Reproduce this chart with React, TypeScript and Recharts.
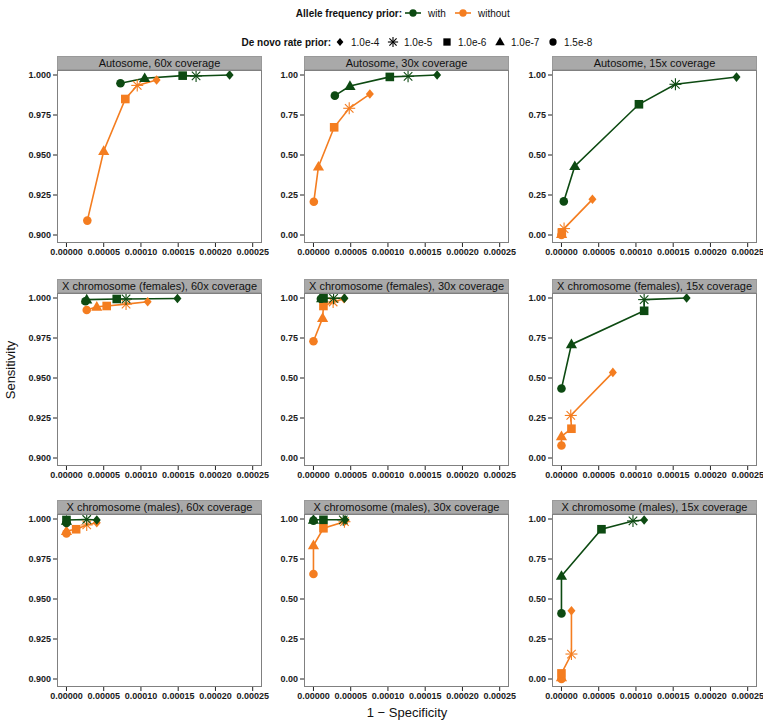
import React from "react";
import { ComposedChart, Line, XAxis, YAxis } from "recharts";

const FONT = "'Liberation Sans', Arial, Helvetica, sans-serif";
const GREEN = "#0d4a12";
const ORANGE = "#f47d20";

// order along each path: 1.5e-8, 1.0e-7, 1.0e-6, 1.0e-5, 1.0e-4
const rateShapes = ["circle", "triangle", "square", "asterisk", "diamond"];
const legendRates = ["1.0e-4", "1.0e-5", "1.0e-6", "1.0e-7", "1.5e-8"];
const legendShapes = ["diamond", "asterisk", "square", "triangle", "circle"];
const priorLabels = ["with", "without"];

const xTicks = [0, 0.00005, 0.0001, 0.00015, 0.0002, 0.00025];
const yTicksFine = [0.9, 0.925, 0.95, 0.975, 1.0];
const yTicksFull = [0, 0.25, 0.5, 0.75, 1.0];

const panelTitles = [
  "Autosome, 60x coverage",
  "Autosome, 30x coverage",
  "Autosome, 15x coverage",
  "X chromosome (females), 60x coverage",
  "X chromosome (females), 30x coverage",
  "X chromosome (females), 15x coverage",
  "X chromosome (males), 60x coverage",
  "X chromosome (males), 30x coverage",
  "X chromosome (males), 15x coverage",
];

// Autosome 60x
const auto60WithFpr = [0.0000725, 0.000105, 0.000156, 0.000174, 0.000219];
const auto60WithSens = [0.9948, 0.998, 0.9996, 0.9994, 1.0];
const auto60WithoutFpr = [0.000028, 0.00005, 0.000079, 0.000095, 0.000121];
const auto60WithoutSens = [0.909, 0.9525, 0.985, 0.9935, 0.9969];
// Autosome 30x
const auto30WithFpr = [0.0000287, 0.000049, 0.0001025, 0.000127, 0.000166];
const auto30WithSens = [0.871, 0.931, 0.988, 0.992, 1.0];
const auto30WithoutFpr = [0.0000005, 0.0000067, 0.0000278, 0.000048, 0.0000757];
const auto30WithoutSens = [0.208, 0.427, 0.673, 0.792, 0.881];
// Autosome 15x
const auto15WithFpr = [0.0000031, 0.0000179, 0.000104, 0.000153, 0.000235];
const auto15WithSens = [0.21, 0.43, 0.817, 0.942, 0.987];
const auto15WithoutFpr = [0.0, 0.0000002, 0.0000005, 0.0000035, 0.0000416];
const auto15WithoutSens = [0.0, 0.005, 0.015, 0.04, 0.223];
// X females 60x
const xf60WithFpr = [0.0000255, 0.0000272, 0.0000675, 0.00008, 0.000149];
const xf60WithSens = [0.998, 0.999, 0.9994, 0.9994, 0.9997];
const xf60WithoutFpr = [0.0000272, 0.0000407, 0.000054, 0.00008, 0.000109];
const xf60WithoutSens = [0.9925, 0.9945, 0.995, 0.9962, 0.9977];
// X females 30x
const xf30WithFpr = [0.00001, 0.000011, 0.0000135, 0.000027, 0.0000416];
const xf30WithSens = [0.995, 0.998, 0.998, 0.998, 0.999];
const xf30WithoutFpr = [0.0, 0.0000123, 0.0000134, 0.0000264, 0.000041];
const xf30WithoutSens = [0.73, 0.875, 0.95, 0.975, 0.995];
// X females 15x
const xf15WithFpr = [0.0, 0.0000134, 0.000111, 0.000111, 0.000168];
const xf15WithSens = [0.434, 0.71, 0.92, 0.99, 1.0];
const xf15WithoutFpr = [0.0, 0.0, 0.0000134, 0.0000125, 0.000069];
const xf15WithoutSens = [0.078, 0.135, 0.183, 0.266, 0.535];
// X males 60x
const xm60WithFpr = [0.0, 0.0, 0.0, 0.0000272, 0.0000407];
const xm60WithSens = [0.9975, 0.9988, 0.9994, 0.9997, 0.9994];
const xm60WithoutFpr = [0.0, 0.0, 0.000013, 0.0000272, 0.0000407];
const xm60WithoutSens = [0.991, 0.9925, 0.9936, 0.9963, 0.9977];
// X males 30x
const xm30WithFpr = [0.0, 0.0, 0.0000134, 0.00004, 0.0000425];
const xm30WithSens = [0.99, 0.995, 0.995, 0.995, 0.995];
const xm30WithoutFpr = [0.0, 0.0, 0.0000134, 0.0000416, 0.000043];
const xm30WithoutSens = [0.656, 0.835, 0.942, 0.983, 0.99];
// X males 15x
const xm15WithFpr = [0.0, 0.0, 0.0000537, 0.000096, 0.000111];
const xm15WithSens = [0.41, 0.644, 0.936, 0.988, 0.994];
const xm15WithoutFpr = [0.0, 0.0, 0.0, 0.0000134, 0.0000134];
const xm15WithoutSens = [0.0, 0.01, 0.035, 0.156, 0.427];

const panelSeries = [
  [auto60WithFpr, auto60WithSens, auto60WithoutFpr, auto60WithoutSens],
  [auto30WithFpr, auto30WithSens, auto30WithoutFpr, auto30WithoutSens],
  [auto15WithFpr, auto15WithSens, auto15WithoutFpr, auto15WithoutSens],
  [xf60WithFpr, xf60WithSens, xf60WithoutFpr, xf60WithoutSens],
  [xf30WithFpr, xf30WithSens, xf30WithoutFpr, xf30WithoutSens],
  [xf15WithFpr, xf15WithSens, xf15WithoutFpr, xf15WithoutSens],
  [xm60WithFpr, xm60WithSens, xm60WithoutFpr, xm60WithoutSens],
  [xm30WithFpr, xm30WithSens, xm30WithoutFpr, xm30WithoutSens],
  [xm15WithFpr, xm15WithSens, xm15WithoutFpr, xm15WithoutSens],
];

// layout
const COL_LEFT = [57, 304, 552];
const ROW_TOP = [70, 293, 514];
const PW = 205;
const PH = 173;
const STRIP_H = 14;
const YAXIS_W = 52;
const MT = 8;
const XDOMAIN = [-0.0000127, 0.0002625];
const YDOMAIN_FINE = [0.895, 1.003125];
const YDOMAIN_FULL = [-0.05, 1.03125];

function Marker({ cx, cy, shape, color, legend }: any) {
  if (cx == null || cy == null || isNaN(cx) || isNaN(cy)) return null;
  const s = legend ? 0.85 : 1;
  switch (shape) {
    case "circle":
      return <circle cx={cx} cy={cy} r={4.3 * s} fill={color} />;
    case "triangle":
      return (
        <polygon
          points={`${cx},${cy - 5.8 * s} ${cx - 5.6 * s},${cy + 3.9 * s} ${cx + 5.6 * s},${cy + 3.9 * s}`}
          fill={color}
        />
      );
    case "square":
      return <rect x={cx - 4.3 * s} y={cy - 4.3 * s} width={8.6 * s} height={8.6 * s} fill={color} />;
    case "diamond":
      return (
        <polygon
          points={`${cx},${cy - 4.8 * s} ${cx + 4 * s},${cy} ${cx},${cy + 4.8 * s} ${cx - 4 * s},${cy}`}
          fill={color}
        />
      );
    case "asterisk": {
      const r = 6 * s;
      const d = r * 0.7071;
      return (
        <g stroke={color} strokeWidth={1.1} strokeLinecap="butt">
          <line x1={cx - r} y1={cy} x2={cx + r} y2={cy} />
          <line x1={cx} y1={cy - r} x2={cx} y2={cy + r} />
          <line x1={cx - d} y1={cy - d} x2={cx + d} y2={cy + d} />
          <line x1={cx - d} y1={cy + d} x2={cx + d} y2={cy - d} />
        </g>
      );
    }
    default:
      return null;
  }
}

function makeRows(fpr: number[], sens: number[]) {
  return fpr.map((x, i) => ({ x, y: sens[i], shape: rateShapes[i] }));
}

function dotRenderer(color: string) {
  return (p: any) => (
    <Marker key={`m-${p.index}`} cx={p.cx} cy={p.cy} shape={p.payload?.shape} color={color} />
  );
}

function Panel({ idx }: { idx: number }) {
  const col = idx % 3;
  const row = Math.floor(idx / 3);
  const L = COL_LEFT[col];
  const T = ROW_TOP[row];
  const fine = col === 0;
  const [wf, ws, nf, ns] = panelSeries[idx];
  const withRows = makeRows(wf, ws);
  const withoutRows = makeRows(nf, ns);
  const tickStyle = { fontSize: 9, fill: "#1a1a1a", fontWeight: "bold", fontFamily: FONT };
  return (
    <>
      <div style={{ position: "absolute", left: L - YAXIS_W, top: T - MT }}>
        <ComposedChart
          width={YAXIS_W + PW + 12}
          height={MT + PH + 30}
          margin={{ top: MT, right: 12, bottom: 0, left: 0 }}
        >
          <XAxis
            type="number"
            dataKey="x"
            domain={XDOMAIN}
            allowDataOverflow
            ticks={xTicks}
            interval={0}
            tickFormatter={(v: number) => v.toFixed(5)}
            axisLine={false}
            tickLine={{ stroke: "#222", strokeWidth: 1 }}
            tickSize={4}
            tickMargin={2}
            height={30}
            tick={tickStyle}
          />
          <YAxis
            type="number"
            dataKey="y"
            domain={fine ? YDOMAIN_FINE : YDOMAIN_FULL}
            allowDataOverflow
            ticks={fine ? yTicksFine : yTicksFull}
            interval={0}
            tickFormatter={(v: number) => v.toFixed(fine ? 3 : 2)}
            axisLine={false}
            tickLine={{ stroke: "#222", strokeWidth: 1 }}
            tickSize={4}
            tickMargin={2}
            width={YAXIS_W}
            tick={tickStyle}
          />
          <Line
            data={withoutRows}
            dataKey="y"
            stroke={ORANGE}
            strokeWidth={1.6}
            dot={false}
            activeDot={false}
            isAnimationActive={false}
          />
          <Line
            data={withRows}
            dataKey="y"
            stroke={GREEN}
            strokeWidth={1.6}
            dot={false}
            activeDot={false}
            isAnimationActive={false}
          />
          <Line
            data={withoutRows}
            dataKey="y"
            stroke="none"
            dot={dotRenderer(ORANGE)}
            activeDot={false}
            isAnimationActive={false}
          />
          <Line
            data={withRows}
            dataKey="y"
            stroke="none"
            dot={dotRenderer(GREEN)}
            activeDot={false}
            isAnimationActive={false}
          />
        </ComposedChart>
      </div>
      <div
        style={{
          position: "absolute",
          left: L,
          top: T,
          width: PW,
          height: PH,
          boxSizing: "border-box",
          border: "1.5px solid #808080",
          pointerEvents: "none",
        }}
      />
      <div
        style={{
          position: "absolute",
          left: L,
          top: T - STRIP_H,
          width: PW,
          height: STRIP_H,
          boxSizing: "border-box",
          background: "#a9a9a9",
          border: "1px solid #999",
          color: "#111",
          fontSize: 11,
          lineHeight: `${STRIP_H - 1}px`,
          textAlign: "center",
          fontFamily: FONT,
          whiteSpace: "nowrap",
          overflow: "hidden",
        }}
      >
        {panelTitles[idx]}
      </div>
    </>
  );
}

function Legend() {
  const prioX = [413, 463];
  const prioColors = [GREEN, ORANGE];
  const rateX = [340, 393, 447, 500, 553];
  return (
    <svg
      width={763}
      height={56}
      style={{ position: "absolute", left: 0, top: 0 }}
      fontFamily={FONT}
    >
      <text x={402} y={13} dy="0.35em" textAnchor="end" fontSize={10} fontWeight="bold" fill="#111">
        Allele frequency prior:
      </text>
      {priorLabels.map((lab, i) => (
        <g key={lab}>
          <line x1={prioX[i] - 8} x2={prioX[i] + 8} y1={13} y2={13} stroke={prioColors[i]} strokeWidth={1.6} />
          <Marker cx={prioX[i]} cy={13} shape="circle" color={prioColors[i]} legend />
          <text x={prioX[i] + 15} y={13} dy="0.35em" fontSize={10} fill="#111">
            {lab}
          </text>
        </g>
      ))}
      <text x={331} y={42} dy="0.35em" textAnchor="end" fontSize={10} fontWeight="bold" fill="#111">
        De novo rate prior:
      </text>
      {legendRates.map((lab, i) => (
        <g key={lab}>
          <Marker cx={rateX[i]} cy={42} shape={legendShapes[i]} color="#000" legend />
          <text x={rateX[i] + 11} y={42} dy="0.35em" fontSize={10} fill="#111">
            {lab}
          </text>
        </g>
      ))}
    </svg>
  );
}

export default function App() {
  return (
    <div
      style={{
        position: "absolute",
        left: 0,
        top: 0,
        width: 763,
        height: 725,
        background: "#fff",
        fontFamily: FONT,
        overflow: "hidden",
      }}
    >
      <Legend />
      {panelTitles.map((_, i) => (
        <Panel key={i} idx={i} />
      ))}
      <div
        style={{
          position: "absolute",
          left: 407 - 100,
          top: 705,
          width: 200,
          textAlign: "center",
          fontSize: 13,
          color: "#111",
          fontFamily: FONT,
        }}
      >
        1 − Specificity
      </div>
      <svg width={30} height={725} style={{ position: "absolute", left: 0, top: 0 }}>
        <text
          x={10}
          y={370}
          transform="rotate(-90 10 370)"
          textAnchor="middle"
          dy="0.35em"
          fontSize={13}
          fill="#111"
          fontFamily={FONT}
        >
          Sensitivity
        </text>
      </svg>
    </div>
  );
}
